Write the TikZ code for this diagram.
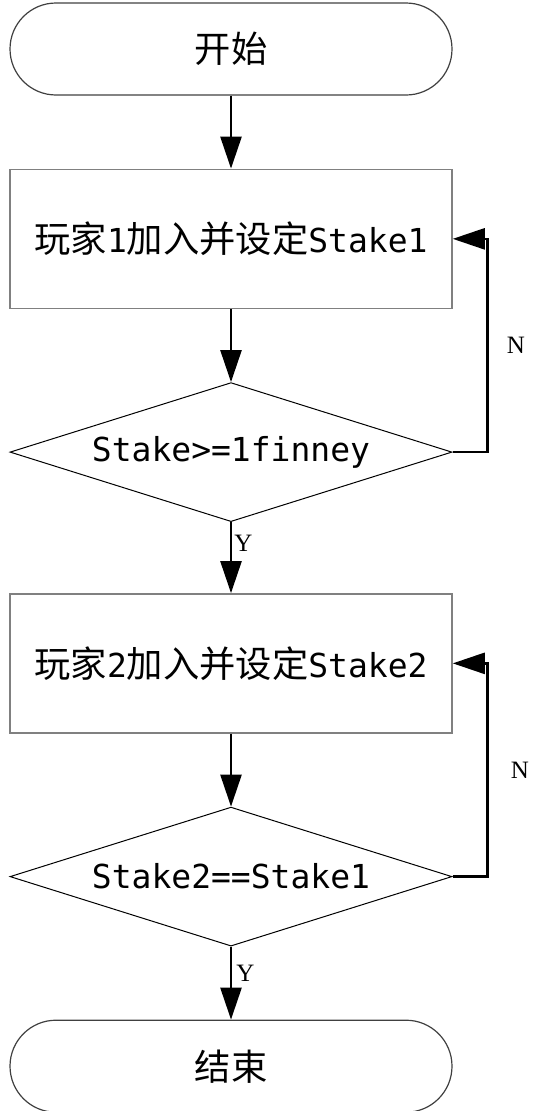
\documentclass[tikz,border=0pt]{standalone}
\usepackage{fontspec}
\setmainfont{DejaVu Sans Mono}
\newfontfamily\cjk[Scale=1.1]{Noto Sans CJK SC}
\newfontfamily\lblfont{Liberation Serif}
\usetikzlibrary{arrows.meta,positioning,shapes.geometric}

\begin{document}
\begin{tikzpicture}[
    x=1pt, y=1pt,
    term/.style={rectangle, draw=black!75, rounded corners=46pt, minimum width=442pt,
        minimum height=92pt, inner sep=0pt, line width=1.2pt, font=\fontsize{33}{38}\selectfont},
    stepbox/.style={rectangle, draw=black!50, minimum width=442pt,
        minimum height=139pt, inner sep=0pt, line width=1.5pt, font=\fontsize{33}{38}\selectfont},
    check/.style={diamond, draw=black, aspect=3.2, minimum width=442pt,
        minimum height=139pt, inner sep=0pt, line width=1pt, font=\fontsize{33}{38}\selectfont},
    arr/.style={-{Triangle[length=32pt,width=21pt]}, line width=2.5pt},
    lbl/.style={font=\lblfont\fontsize{25}{30}\selectfont, inner sep=0pt},
    node distance=73pt
]
\useasboundingbox (0,0) rectangle (536,-1111);

\node[term] (start) at (231,-49) {\cjk 开始};
\node[stepbox, below=of start] (join1) {{\cjk 玩家}1{\cjk 加入并设定}Stake1};
\draw[arr] (start) -- (join1);
\node[check, below=of join1] (check1) {Stake>=1finney};
\draw[arr] (join1) -- (check1);
\draw[arr] (check1.east) -- ++(35,0) |- node[lbl, pos=0.25, right=18pt] (n1) {N} (join1.east);

\node[stepbox, below=71pt of check1] (join2) {{\cjk 玩家}2{\cjk 加入并设定}Stake2};
\draw[arr] (check1) -- node[lbl, pos=0.3, right=2pt] (y1) {Y} (join2);
\node[check, below=of join2] (check2) {Stake2==Stake1};
\draw[arr] (join2) -- (check2);
\draw[arr] (check2.east) -- ++(35,0) |- node[lbl, pos=0.25, right=22pt] (n2) {N} (join2.east);

\node[term, below=of check2] (stop) {\cjk 结束};
\draw[arr] (check2) -- node[lbl, pos=0.36, right=4pt] (y2) {Y} (stop);
\end{tikzpicture}
\end{document}
